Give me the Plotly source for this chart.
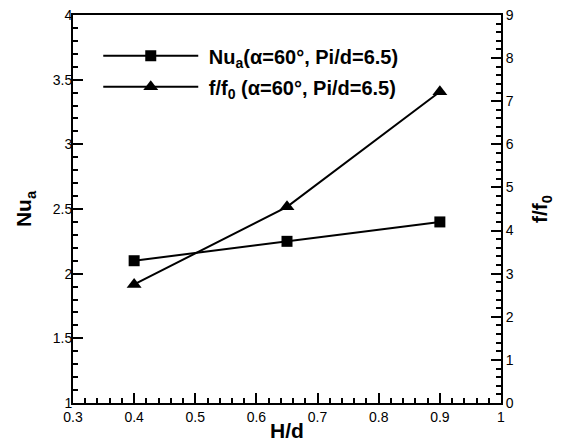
import plotly.graph_objects as go

hd = [0.4, 0.65, 0.9]
nu_a = [2.1, 2.25, 2.4]
f_ratio = [2.75, 4.55, 7.22]

FONT = "Liberation Sans, Arial, sans-serif"

fig = go.Figure()
fig.add_trace(go.Scatter(
    x=hd, y=nu_a, mode="lines+markers",
    name="\u00a0<b>Nu<sub>a</sub>(α=60°, Pi/d=6.5)</b>",
    line=dict(color="black", width=2),
    marker=dict(symbol="square", size=11, color="black"),
    legendgroup="a", yaxis="y"))
fig.add_trace(go.Scatter(
    x=hd, y=f_ratio, mode="lines+markers",
    name="\u00a0<b>f/f<sub>0</sub> (α=60°, Pi/d=6.5)</b>",
    line=dict(color="black", width=2),
    marker=dict(symbol="triangle-up", size=13, color="black"),
    legendgroup="b", yaxis="y2"))

axis_common = dict(
    showgrid=False, zeroline=False, showline=True, linecolor="black", linewidth=2,
    ticks="inside", ticklen=10, tickwidth=2, tickcolor="black", automargin=False,
    ticklabeloverflow="allow",
    tickfont=dict(family=FONT, size=14, color="black"),
)

# page body has an 8px margin, so the figure is 557x438 to fit the 565x446 window
fig.update_layout(
    width=557, height=438,
    margin=dict(l=65, r=64, t=7, b=43),
    paper_bgcolor="white", plot_bgcolor="white",
    font=dict(family=FONT, color="black"),
    showlegend=True,
    legend=dict(x=0.059, y=0.945, xanchor="left", yanchor="top",
                bgcolor="rgba(0,0,0,0)", font=dict(family=FONT, size=20, color="black"),
                itemwidth=95, tracegroupgap=2),
    xaxis=dict(range=[0.3, 1.0], dtick=0.1, tick0=0.3, mirror=True,
               minor=dict(dtick=0.02, ticks="inside", ticklen=5, tickwidth=1.5, tickcolor="black"),
               title=dict(text="<b>H/d</b>", font=dict(family=FONT, size=21), standoff=0),
               tickformat="~g",
               **axis_common),
    yaxis=dict(range=[1, 4], dtick=0.5, tick0=1, ticklabelstandoff=-4,
               minor=dict(dtick=0.1, ticks="inside", ticklen=5, tickwidth=1.5, tickcolor="black"),
               title=dict(text="<b>Nu<sub>a</sub></b>", font=dict(family=FONT, size=21), standoff=15),
               **axis_common),
    yaxis2=dict(range=[0, 9], dtick=1, tick0=0, overlaying="y", side="right",
                minor=dict(dtick=0.2, ticks="inside", ticklen=5, tickwidth=1.5, tickcolor="black"),
                title=dict(text="<b>f/f<sub>0</sub></b>", font=dict(family=FONT, size=21), standoff=20),
                **axis_common),
)

fig.write_html("out.html")
